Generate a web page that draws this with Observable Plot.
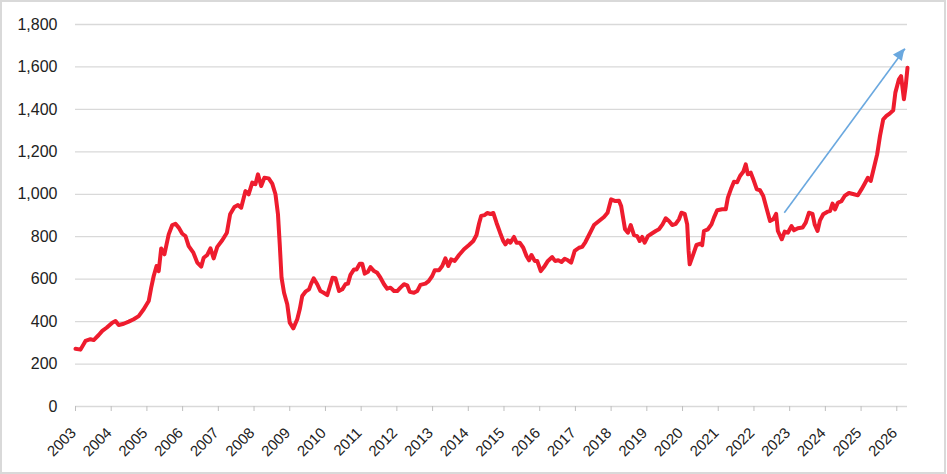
<!DOCTYPE html>
<html><head><meta charset="utf-8">
<script src="https://cdn.jsdelivr.net/npm/d3@7"></script>
<script src="https://cdn.jsdelivr.net/npm/@observablehq/plot@0.6"></script>
<style>
body{margin:0;background:#fff;}
#wrap{position:relative;width:947px;height:474px;}
#frame{position:absolute;left:0;top:0;width:946px;height:474px;box-sizing:border-box;border:2px solid #d9d9d9;pointer-events:none;}
</style></head><body><div id="wrap"><div id="frame"></div></div>
<script>
const dates = [
2003.00,2003.14,2003.28,2003.42,2003.51,2003.65,2003.75,2003.87,2004.03,2004.12,2004.21,2004.35,2004.49,2004.63,2004.77,2004.91,
2005.05,2005.12,2005.19,2005.27,2005.33,2005.40,2005.49,2005.61,2005.71,2005.80,2005.89,2005.99,2006.08,2006.17,2006.30,2006.41,
2006.52,2006.59,2006.69,2006.78,2006.87,2006.97,2007.11,2007.24,2007.33,2007.45,2007.55,2007.64,2007.76,2007.85,2007.95,2008.04,
2008.11,2008.20,2008.29,2008.41,2008.51,2008.60,2008.67,2008.72,2008.77,2008.84,2008.93,2009.00,2009.10,2009.21,2009.28,2009.35,
2009.44,2009.54,2009.60,2009.67,2009.77,2009.86,2009.95,2010.05,2010.12,2010.20,2010.28,2010.38,2010.47,2010.56,2010.63,2010.70,
2010.80,2010.87,2010.96,2011.03,2011.10,2011.19,2011.26,2011.36,2011.45,2011.54,2011.64,2011.73,2011.82,2011.92,2012.01,2012.10,
2012.20,2012.29,2012.36,2012.48,2012.57,2012.66,2012.80,2012.89,2012.99,2013.06,2013.18,2013.27,2013.36,2013.44,2013.52,2013.62,
2013.74,2013.88,2014.02,2014.14,2014.23,2014.30,2014.36,2014.46,2014.53,2014.62,2014.70,2014.79,2014.89,2014.98,2015.04,2015.11,
2015.18,2015.28,2015.35,2015.44,2015.54,2015.63,2015.70,2015.77,2015.86,2015.93,2016.03,2016.12,2016.23,2016.35,2016.43,2016.52,
2016.61,2016.70,2016.79,2016.88,2016.98,2017.10,2017.19,2017.28,2017.38,2017.52,2017.66,2017.80,2017.90,2018.00,2018.12,2018.22,
2018.28,2018.39,2018.47,2018.55,2018.64,2018.73,2018.80,2018.87,2018.94,2019.03,2019.13,2019.25,2019.34,2019.44,2019.53,2019.62,
2019.71,2019.81,2019.90,2019.97,2020.06,2020.13,2020.17,2020.20,2020.30,2020.39,2020.50,2020.55,2020.60,2020.71,2020.81,2020.88,
2020.97,2021.11,2021.21,2021.27,2021.37,2021.44,2021.53,2021.61,2021.70,2021.77,2021.83,2021.91,2021.98,2022.08,2022.17,2022.26,
2022.36,2022.45,2022.54,2022.62,2022.67,2022.78,2022.86,2022.95,2023.05,2023.12,2023.23,2023.36,2023.45,2023.54,2023.64,2023.70,
2023.78,2023.85,2023.94,2024.06,2024.13,2024.20,2024.27,2024.35,2024.45,2024.54,2024.66,2024.80,2024.91,2025.01,2025.10,2025.19,
2025.27,2025.36,2025.45,2025.53,2025.62,2025.71,2025.80,2025.90,2025.96,2026.06,2026.12,2026.20,2026.25,2026.30
];
const values = [
272,268,309,317,313,337,356,371,395,403,384,390,400,411,426,458,
497,560,615,662,638,745,717,811,855,861,843,814,803,756,725,678,
659,701,714,745,698,752,783,819,906,940,949,937,1015,1000,1055,1048,
1094,1039,1078,1075,1050,1000,906,764,607,536,482,395,368,411,458,521,
541,552,579,604,576,544,536,525,563,607,604,544,552,576,579,620,
646,646,673,673,626,635,657,638,630,607,576,555,560,544,544,560,
576,571,540,536,544,573,579,591,615,642,642,662,698,662,693,686,
714,741,761,780,808,861,898,902,912,907,912,866,819,780,764,783,
772,799,772,772,748,709,689,714,686,686,638,657,686,704,686,689,
681,696,689,678,733,748,752,775,808,855,874,893,913,976,968,970,
945,835,819,855,808,803,780,799,772,803,814,827,835,858,887,874,
855,861,882,913,908,858,733,670,717,761,767,760,827,835,858,890,
925,929,929,984,1031,1059,1057,1086,1106,1141,1094,1102,1071,1023,1019,992,
929,874,882,908,827,788,824,819,850,830,840,843,866,913,908,858,
827,877,906,918,921,956,929,960,968,992,1006,1000,995,1023,1050,1078,
1063,1125,1188,1275,1353,1369,1380,1396,1479,1542,1557,1448,1510,1596
];
const yTicks = [0,200,400,600,800,1000,1200,1400,1600,1800];
const xTicks = [2003,2004,2005,2006,2007,2008,2009,2010,2011,2012,2013,2014,2015,2016,2017,2018,2019,2020,2021,2022,2023,2024,2025,2026];
const arrowFrom = [2022.85, 913];
const arrowTo = [2026.23, 1686];

const data = dates.map((t, i) => ({t, v: values[i]}));
const chart = Plot.plot({
  width: 947, height: 474,
  marginLeft: 75, marginRight: 40, marginTop: 24, marginBottom: 68,
  style: {fontFamily: "'Liberation Sans', Arial, sans-serif", fontSize: "16px", color: "#222", background: "transparent", overflow: "visible"},
  x: {domain: [2003, 2026.3]},
  y: {domain: [0, 1800]},
  marks: [
    Plot.ruleY(yTicks, {stroke: "#d9d9d9", strokeWidth: 1.3}),
    Plot.axisY(yTicks, {tickSize: 0, tickPadding: 18, tickFormat: d3.format(","), label: null, fontSize: 16}),
    Plot.axisX(xTicks, {tickRotate: -45, tickSize: 5, tickFormat: d => String(d), label: null, stroke: "#bfbfbf", fill: "#222", fontSize: 15}),
    Plot.line(data, {x: "t", y: "v", stroke: "#ee1c2e", strokeWidth: 4, strokeLinejoin: "round", strokeLinecap: "round"}),
    Plot.link([{x1: arrowFrom[0], y1: arrowFrom[1], x2: arrowTo[0], y2: arrowTo[1]}], {x1: "x1", y1: "y1", x2: "x2", y2: "y2", stroke: "#6aa8df", strokeWidth: 1.6})
  ]
});
// shift the rotated year labels to sit like the reference
chart.querySelectorAll('g[aria-label="x-axis tick label"]').forEach(g => {
  const t = g.getAttribute("transform") || "";
  g.setAttribute("transform", "translate(-2,12) " + t);
});
// filled arrowhead placed via the chart's own scales
const sx = chart.scale("x"), sy = chart.scale("y");
const ax1 = sx.apply(arrowFrom[0]), ay1 = sy.apply(arrowFrom[1]);
const ax2 = sx.apply(arrowTo[0]), ay2 = sy.apply(arrowTo[1]);
const ang = Math.atan2(ay2 - ay1, ax2 - ax1);
const L = 12, W = 5.5;
const bx = ax2 - L * Math.cos(ang), by = ay2 - L * Math.sin(ang);
const pts = [[ax2, ay2], [bx + W * Math.sin(ang), by - W * Math.cos(ang)], [bx - W * Math.sin(ang), by + W * Math.cos(ang)]];
d3.select(chart).append("polygon").attr("points", pts.map(p => p.join(",")).join(" ")).attr("fill", "#6aa8df");
document.getElementById("wrap").insertBefore(chart, document.getElementById("frame"));
</script></body></html>
